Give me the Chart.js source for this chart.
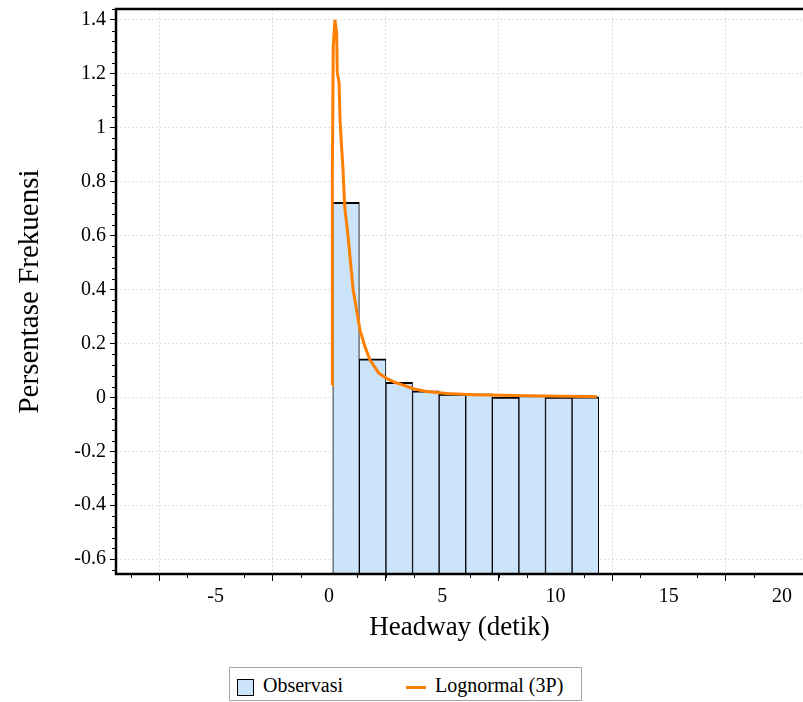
<!DOCTYPE html>
<html>
<head>
<meta charset="utf-8">
<script src="https://cdn.jsdelivr.net/npm/chart.js@4"></script>
<style>
  body { margin: 0; background: #fff; }
  #wrap { position: relative; width: 803px; height: 702px; }
  #legend {
    position: absolute; left: 229px; top: 667px; width: 353px; height: 34px;
    border: 1px solid #a6a6a6; box-sizing: border-box;
    font-family: 'Liberation Serif', serif; font-size: 20px; color: #000;
  }
  .item { position: absolute; top: 5px; line-height: 24px; white-space: nowrap; }
  .swatch { display: inline-block; vertical-align: middle; margin-right: 9px; }
</style>
</head>
<body>
<div id="wrap">
  <canvas id="chart" width="803" height="660"></canvas>
  <div id="legend"></div>
</div>
<script>
// Histogram bins (centres, seconds) and observed frequency
const binCenters = [0.757, 1.931, 3.105, 4.279, 5.453, 6.627, 7.801, 8.975, 10.149, 11.323];
const observed = [0.723, 0.143, 0.056, 0.024, 0.012, 0.013, 0.001, 0.007, 0.001, 0.002];

// Fitted Lognormal (3P) curve
const fitX = [0.14, 0.15, 0.19, 0.265, 0.34, 0.37, 0.45, 0.49, 0.56, 0.62, 0.66, 0.71, 0.83, 0.93,
              1.07, 1.22, 1.37, 1.59, 1.81, 2.2, 2.55, 2.9, 3.25, 3.72, 4.31, 5.2, 6.37, 7.55,
              8.87, 10.35, 11.82];
const fitY = [0.046, 0.8, 1.3, 1.40, 1.353, 1.204, 1.167, 1.03, 0.929, 0.85, 0.77, 0.696, 0.609, 0.522,
              0.399, 0.325, 0.25, 0.188, 0.139, 0.09, 0.07, 0.056, 0.046, 0.032, 0.022, 0.014, 0.010, 0.008,
              0.006, 0.004, 0.003];

const seriesNames = ['Observasi', 'Lognormal (3P)'];
const xTicks = [-5, 0, 5, 10, 15, 20];
const yTicks = [-0.6, -0.4, -0.2, 0, 0.2, 0.4, 0.6, 0.8, 1, 1.2, 1.4];
const xRange = [-9.4, 20.93];
const yRange = [-0.655, 1.44];
const xMinorStep = 1.25;
const yMinorStep = 0.04;

const font = "'Liberation Serif', 'Times New Roman', serif";
Chart.defaults.font.family = font;
Chart.defaults.color = '#000';

// axis frame and minor tick marks
const frame = {
    id: 'frame',
    afterDraw(chart) {
        const { ctx, chartArea: a, scales: { x, y } } = chart;
        ctx.save();
        ctx.strokeStyle = '#000';
        ctx.lineWidth = 2.5;
        ctx.beginPath();
        ctx.moveTo(a.right, a.top);
        ctx.lineTo(a.left, a.top);
        ctx.lineTo(a.left, a.bottom);
        ctx.lineTo(a.right, a.bottom);
        ctx.stroke();

        ctx.lineWidth = 1;
        ctx.beginPath();
        for (let k = Math.ceil(xRange[0] / xMinorStep); k * xMinorStep <= xRange[1]; k++) {
            if (k % 4 === 0) continue;
            const px = Math.round(x.getPixelForValue(k * xMinorStep)) + 0.5;
            ctx.moveTo(px, a.bottom + 1);
            ctx.lineTo(px, a.bottom + 4);
        }
        for (let k = Math.ceil(yRange[0] / yMinorStep); k * yMinorStep <= yRange[1]; k++) {
            if (k % 5 === 0) continue;
            const py = Math.round(y.getPixelForValue(k * yMinorStep)) + 0.5;
            ctx.moveTo(a.left - 1, py);
            ctx.lineTo(a.left - 4, py);
        }
        ctx.stroke();
        ctx.restore();
    }
};

const chart = new Chart(document.getElementById('chart'), {
    type: 'bar',
    data: {
        datasets: [
            {
                type: 'line',
                label: seriesNames[1],
                data: fitX.map((v, i) => ({ x: v, y: fitY[i] })),
                borderColor: '#ff8000',
                borderWidth: 3,
                pointRadius: 0,
                tension: 0,
                fill: false,
                order: 0
            },
            {
                label: seriesNames[0],
                data: binCenters.map((v, i) => ({ x: v, y: observed[i] })),
                base: yRange[0],
                backgroundColor: '#cce4fa',
                borderColor: '#000',
                borderWidth: { top: 2, left: 1, right: 1, bottom: 0 },
                borderSkipped: false,
                barPercentage: 1,
                categoryPercentage: 1,
                order: 1
            }
        ]
    },
    options: {
        responsive: false,
        animation: false,
        layout: { padding: { top: 9, right: 0, bottom: 0, left: 0 } },
        plugins: {
            legend: { display: false },
            tooltip: { enabled: false }
        },
        scales: {
            x: {
                type: 'linear',
                min: xRange[0],
                max: xRange[1],
                offset: false,
                afterBuildTicks: s => { s.ticks = xTicks.map(v => ({ value: v })); },
                afterFit: s => { s.height = 86; s.paddingLeft = 0; s.paddingRight = 0; },
                ticks: {
                    color: '#000',
                    font: { family: font, size: 20 },
                    padding: 4,
                    maxRotation: 0,
                    callback: v => String(v)
                },
                grid: {
                    color: '#e0e0e0',
                    lineWidth: 1,
                    tickColor: '#000',
                    tickLength: 7,
                    tickWidth: 1
                },
                border: { display: false, dash: [2, 2] },
                title: {
                    display: true,
                    text: 'Headway (detik)',
                    color: '#000',
                    font: { family: font, size: 27, lineHeight: 1.2 },
                    padding: { top: 0, bottom: 16 }
                }
            },
            y: {
                min: yRange[0],
                max: yRange[1],
                afterBuildTicks: s => { s.ticks = yTicks.map(v => ({ value: v })); },
                afterFit: s => { s.width = 116; s.paddingTop = 0; s.paddingBottom = 0; },
                ticks: {
                    color: '#000',
                    font: { family: font, size: 20 },
                    padding: 4,
                    callback: v => String(v)
                },
                grid: {
                    color: '#e0e0e0',
                    lineWidth: 1,
                    tickColor: '#000',
                    tickLength: 6,
                    tickWidth: 1
                },
                border: { display: false, dash: [2, 2] },
                title: {
                    display: true,
                    text: 'Persentase Frekuensi',
                    color: '#000',
                    font: { family: font, size: 29, lineHeight: 1.2 },
                    padding: { top: 13, bottom: 0 }
                }
            }
        }
    },
    plugins: [frame]
});

// HTML legend built from the datasets
const legend = document.getElementById('legend');
const bars = chart.data.datasets[1];
const fit = chart.data.datasets[0];
legend.innerHTML =
    '<span class="item" style="left:7px"><span class="swatch" style="width:15px;height:15px;' +
    'background:' + bars.backgroundColor + ';border:1px solid #000"></span>' + bars.label + '</span>' +
    '<span class="item" style="left:176px"><span class="swatch" style="width:20px;height:3px;' +
    'background:' + fit.borderColor + '"></span>' + fit.label + '</span>';
</script>
</body>
</html>
